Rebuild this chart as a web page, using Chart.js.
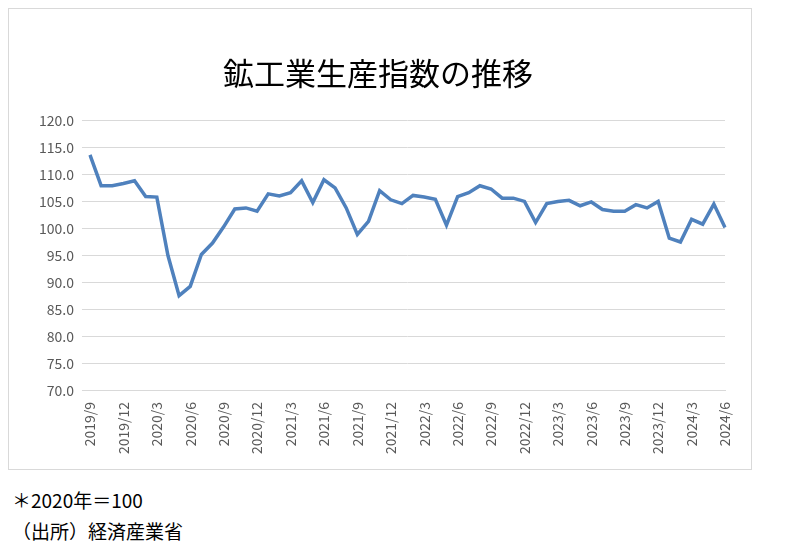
<!DOCTYPE html>
<html><head><meta charset="utf-8">
<script src="https://cdn.jsdelivr.net/npm/chart.js@4/dist/chart.umd.min.js"></script>
<style>
body{margin:0;background:#fff;font-family:"Noto Sans CJK JP",sans-serif;}
#box{position:absolute;left:8px;top:8px;width:744px;height:462px;border:1px solid #d9d9d9;box-sizing:border-box;}
#wrap{position:absolute;left:0;top:0;width:742px;height:460px;}
.note{position:absolute;left:12px;font-size:19px;color:#000;}
</style></head><body>
<div id="box"><div id="wrap"><canvas id="c"></canvas></div></div>
<div class="note" style="top:486px">＊2020年＝100</div>
<div class="note" style="top:517px">（出所）経済産業省</div>
<script>
const startYear = 2019, startMonth = 9;
const values = [113.6,107.9,107.9,108.3,
 108.8,105.9,105.8,95.0,87.6,89.3,95.2,97.3,100.3,103.6,103.8,103.2,
 106.4,106.0,106.6,108.8,104.8,109.0,107.5,103.8,98.9,101.3,107.0,105.3,
 104.6,106.1,105.8,105.4,100.6,105.9,106.6,107.9,107.3,105.6,105.6,105.0,
 101.1,104.6,105.0,105.2,104.2,104.9,103.5,103.2,103.2,104.4,103.8,105.0,
 98.2,97.5,101.7,100.8,104.5,100.2];
const labels = values.map((v, i) => {
  const m = startMonth - 1 + i;
  return (startYear + Math.floor(m / 12)) + '/' + (m % 12 + 1);
});
new Chart(document.getElementById('c'), {
  type: 'line',
  data: { labels: labels, datasets: [{ data: values, borderColor: '#4f81bd', borderWidth: 3.5, pointRadius: 0, tension: 0 }] },
  options: {
    responsive: true, maintainAspectRatio: false, animation: false,
    layout: { padding: { left: 22, right: 26, top: 10, bottom: 12 } },
    plugins: {
      legend: { display: false },
      title: { display: true, text: '鉱工業生産指数の推移', color: '#000',
        font: { family: '"Noto Sans CJK JP"', size: 31, weight: 'normal' }, padding: { top: 36, bottom: 28 } }
    },
    scales: {
      x: { grid: { display: false }, border: { color: '#d9d9d9' },
        ticks: { autoSkip: false, maxRotation: 90, minRotation: 90, color: '#595959',
          font: { family: '"Noto Sans CJK JP"', size: 14 },
          callback: (v, i) => i % 3 === 0 ? labels[i] : '' } },
      y: { min: 70, max: 120, grid: { color: '#d9d9d9' }, border: { display: false },
        ticks: { stepSize: 5, color: '#595959', padding: 8, font: { family: '"Noto Sans CJK JP"', size: 14 },
          callback: v => v.toFixed(1) } }
    }
  }
});
</script></body></html>
